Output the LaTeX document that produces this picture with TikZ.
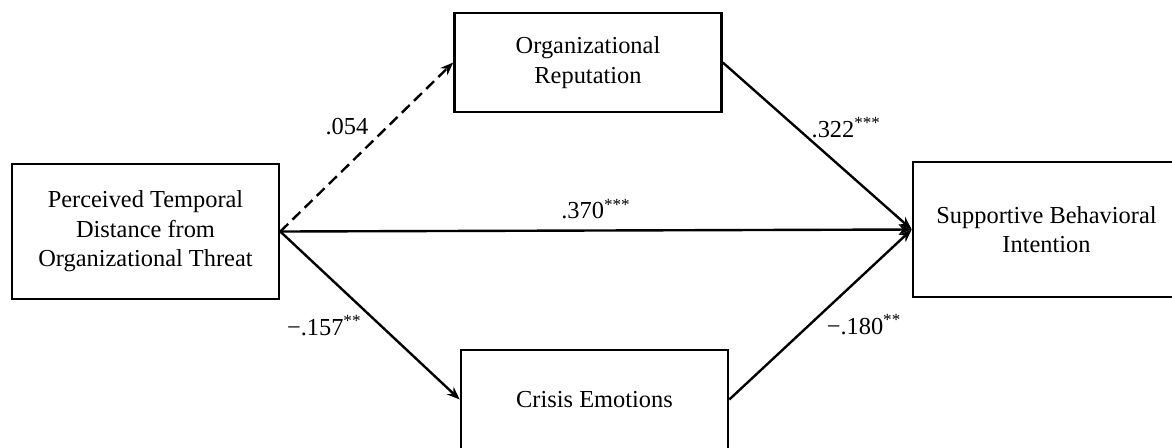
\documentclass[tikz,border=0pt]{standalone}
\usepackage{fontspec}
\setmainfont{Liberation Serif}
\usepackage{tikz}
\usetikzlibrary{arrows.meta,positioning}
\tikzstyle{box} = [draw,line width=1.3pt,align=center,minimum width=133.5pt,minimum height=49.5pt,inner sep=0pt,font=\fontsize{12.2}{14.75}\selectfont]
\tikzstyle{tallbox} = [box,minimum height=67.5pt]
\tikzstyle{arrow} = [line width=1.2pt,-{Stealth[length=6.5pt,width=5pt]}]
\tikzstyle{coef} = [font=\fontsize{12.2}{14.75}\selectfont,inner sep=2pt]

\begin{document}
\begin{tikzpicture}[x=0.5pt,y=-0.5pt]
\useasboundingbox (0,0) rectangle (1172,447);

% Variables
\node[tallbox] (distance) at (145.5,231.5) {Perceived Temporal\\Distance from\\Organizational Threat};
\node[box] (reputation) at (588,62.5) {Organizational\\Reputation};
\node[box] (emotions) at (594.5,399.5) {Crisis Emotions};
\node[tallbox] (intention) at (1046.5,229.5) {Supportive Behavioral\\Intention};

% Paths
\draw[arrow,dash pattern=on 5.5pt off 3pt] (distance.east) -- node[coef,pos=0.62,left=7pt] {.054} (reputation.west);
\draw[arrow] (distance.east) -- node[coef,pos=0.5,above=3pt] {.370\textsuperscript{***}} (intention.west);
\draw[arrow] (distance.east) -- node[coef,pos=0.56,left=7pt] {−.157\textsuperscript{**}} (emotions.west);
\draw[arrow] (reputation.east) -- node[coef,pos=0.39,right=5pt] {.322\textsuperscript{***}} (intention.west);
\draw[arrow] (emotions.east) -- node[coef,pos=0.44,right=6pt] {−.180\textsuperscript{**}} (intention.west);
\end{tikzpicture}
\end{document}
